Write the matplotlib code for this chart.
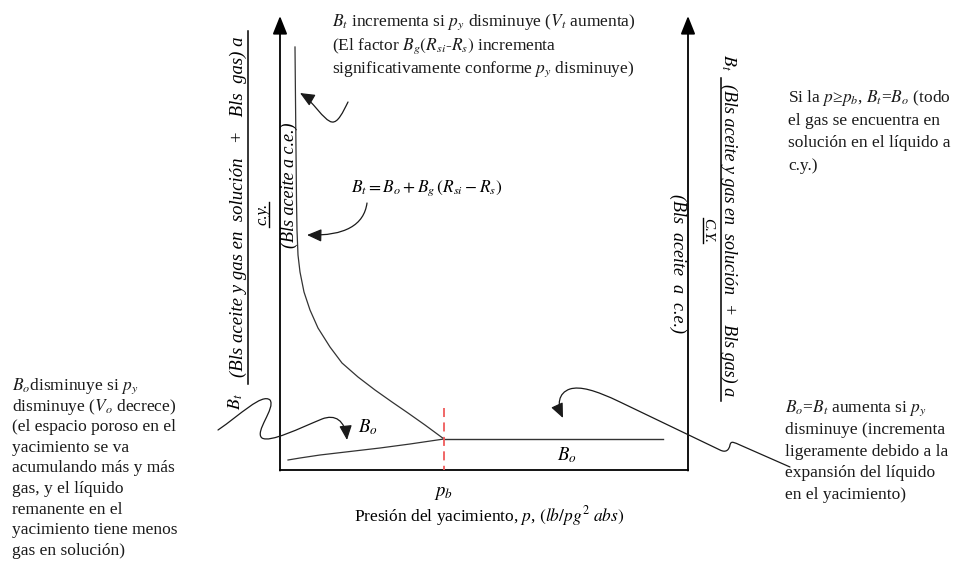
import matplotlib

matplotlib.use("Agg")
import matplotlib.pyplot as plt
from matplotlib.patches import FancyArrowPatch
from matplotlib.path import Path

plt.rcParams["font.family"] = ["Liberation Serif", "DejaVu Serif"]
plt.rcParams["mathtext.fontset"] = "stix"

# Curvas esquematicas (unidades del dibujo: x = presion, y = factor de volumen hacia abajo)
bt_p = [295, 295.5, 296, 296.5, 297, 298, 300, 304, 310, 318, 330, 342, 358, 375, 392, 408, 425, 444]
bt_val = [47, 100, 150, 200, 230, 255, 272, 292, 310, 328, 347, 363, 377, 390, 402, 413, 425, 439]
bo_p = [288, 300, 320, 350, 380, 410, 444]
bo_val = [460, 458, 455, 451.5, 448, 444, 439]
bo_flat_p = [444, 663]
bo_flat_val = [439, 439]
pb = 444

top_note = [r"$B_t$ incrementa si $p_y$ disminuye ($V_t$ aumenta)",
            r"(El factor $B_g(R_{si}$-$R_s)$ incrementa",
            r"significativamente conforme $p_y$ disminuye)"]
left_note = [r"$B_o$disminuye si $p_y$",
             r"disminuye ($V_o$ decrece)",
             "(el espacio poroso en el",
             "yacimiento se va",
             "acumulando más y más",
             "gas, y el líquido",
             "remanente en el",
             "yacimiento tiene menos",
             "gas en solución)"]
right_top_note = [r"Si la $p$≥$p_b$, $B_t$=$B_o$ (todo",
                  "el gas se encuentra en",
                  "solución en el líquido a",
                  "c.y.)"]
right_bot_note = [r"$B_o$=$B_t$ aumenta si $p_y$",
                  "disminuye (incrementa",
                  "ligeramente debido a la",
                  "expansión del líquido",
                  "en el yacimiento)"]
num_label_left = "(Bls aceite y gas en  solución   +   Bls  gas) a"
num_label_right = "(Bls aceite y gas en  solución  +  Bls gas) a"
den_label = "(Bls aceite a c.e.)"
equation = r"$B_t = B_o + B_g\,(R_{si} - R_s)$"
xlabel = r"Presión del yacimiento, $p$, $(lb/pg^2\ abs)$"

FS = 12.5
INK = "#1a1a1a"


def note(ax, x, y0, dy, rows):
    for i, row in enumerate(rows):
        ax.text(x, y0 + i * dy, row, ha="left", va="baseline", fontsize=FS, color=INK)


def curly(ax, pts, codes):
    arrow = FancyArrowPatch(path=Path(pts, codes),
                            arrowstyle="-|>,head_length=0.8,head_width=0.35",
                            mutation_scale=11, lw=0.9, color=INK)
    ax.add_patch(arrow)


fig = plt.figure(figsize=(9.61, 5.65), dpi=100)
ax = fig.add_axes([0, 0, 1, 1])
ax.set_xlim(0, 961)
ax.set_ylim(565, 0)
ax.axis("off")

# ejes
ax.plot([280, 688], [470, 470], color="black", lw=1.3)
for xa in (280, 688):
    ax.add_patch(FancyArrowPatch((xa, 470.6), (xa, 16), arrowstyle="-|>,head_length=1.0,head_width=0.4",
                                 mutation_scale=11, lw=1.3, color="black", shrinkA=0, shrinkB=0))

# curvas
ax.plot(bt_p, bt_val, color="#333333", lw=0.9)
ax.plot(bo_p, bo_val, color="#333333", lw=0.9)
ax.plot(bo_flat_p, bo_flat_val, color="#333333", lw=1.0)
ax.plot([pb, pb], [408, 470], color="#ef5a5a", lw=1.3, ls=(0, (5, 3)))

ax.text(368, 427, r"$B_o$", ha="center", va="center", fontsize=13.5)
ax.text(567, 455, r"$B_o$", ha="center", va="center", fontsize=13.5)
ax.text(pb, 494, r"$p_b$", ha="center", va="center", fontsize=13.5)
ax.text(489, 516, xlabel, ha="center", va="center", fontsize=FS)
ax.text(427, 188, equation, ha="center", va="center", fontsize=FS)

# etiqueta eje izquierdo
ax.text(236, 402, r"$\mathbf{\mathit{B_t}}$", rotation=90, ha="center", va="center", fontsize=13)
ax.text(238, 207, num_label_left, rotation=90, ha="center", va="center", fontsize=13.5, style="italic")
ax.plot([247.5, 247.5], [31, 384], color="black", lw=1.1)
ax.text(262, 214, "c.y.", rotation=90, ha="center", va="center", fontsize=12, style="italic")
ax.plot([269, 269], [202, 227], color="black", lw=1.0)
ax.text(289, 185, den_label, rotation=90, ha="center", va="center", fontsize=13, style="italic")

# etiqueta eje derecho
ax.text(728, 62, r"$\mathbf{\mathit{B_t}}$", rotation=-90, ha="center", va="center", fontsize=13)
ax.text(729, 240, num_label_right, rotation=-90, ha="center", va="center", fontsize=13, style="italic")
ax.plot([721, 721], [78, 401], color="black", lw=1.1)
ax.text(708, 230, "C.Y.", rotation=-90, ha="center", va="center", fontsize=11, style="italic")
ax.plot([702.5, 702.5], [218, 243], color="black", lw=1.0)
ax.text(678, 263, "(Bls  aceite  a  c.e.)", rotation=-90, ha="center", va="center", fontsize=13,
        style="italic")

# notas
note(ax, 332, 26, 23.5, top_note)
note(ax, 12, 390, 20.6, left_note)
note(ax, 788, 102, 22.6, right_top_note)
note(ax, 785, 412, 21.8, right_bot_note)

M, C, L = Path.MOVETO, Path.CURVE4, Path.LINETO
curly(ax, [(348, 102), (343, 112), (338, 123), (332, 122), (324, 121), (312, 100), (300, 93)],
      [M, C, C, C, C, C, C])
curly(ax, [(367, 203), (364, 225), (345, 236), (307, 235)], [M, C, C, C])
curly(ax, [(218, 430), (240, 415), (262, 393), (270, 400),
           (276, 408), (254, 432), (262, 438),
           (270, 443), (300, 428), (322, 419),
           (335, 414), (345, 420), (347, 440)],
      [M, C, C, C, C, C, C, C, C, C, C, C, C])
curly(ax, [(790, 467), (740, 445),
           (735, 443), (731, 440), (730, 445),
           (729, 450), (726, 453), (720, 450),
           (620, 402),
           (595, 390), (580, 386), (570, 389),
           (558, 393), (557, 405), (563, 418)],
      [M, L, C, C, C, C, C, C, L, C, C, C, C, C, C])

fig.savefig("out.png", dpi=100, facecolor="white")
